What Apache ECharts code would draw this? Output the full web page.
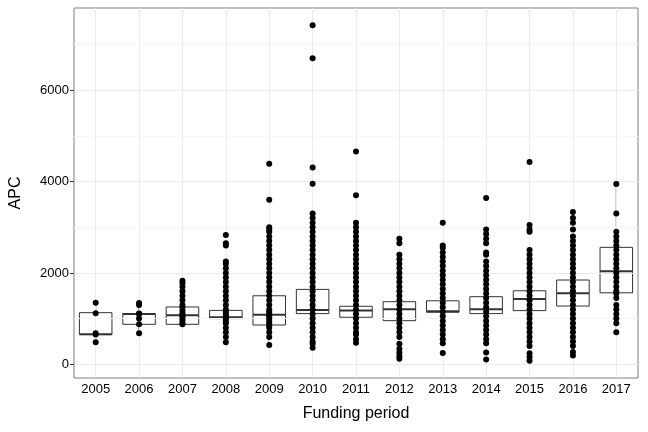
<!DOCTYPE html>
<html><head><meta charset="utf-8">
<script src="https://cdn.jsdelivr.net/npm/echarts@6/dist/echarts.min.js"></script>
<style>html,body{margin:0;padding:0;background:#fff}#c{width:648px;height:432px}</style>
</head><body><div id="c"></div>
<script>
const years = ['2005','2006','2007','2008','2009','2010','2011','2012','2013','2014','2015','2016','2017'];
// [lower whisker, Q1, median, Q3, upper whisker]
const boxStats = [
  [485,650,660,1130,1350],
  [680,875,1100,1110,1350],
  [875,875,1075,1255,1830],
  [730,1000,1030,1180,1450],
  [425,860,1085,1500,2460],
  [360,1110,1190,1640,2435],
  [670,1030,1175,1270,1630],
  [335,955,1205,1370,1990],
  [765,1140,1160,1390,1765],
  [555,1110,1205,1480,2035],
  [525,1175,1430,1610,2260],
  [420,1275,1555,1845,2700],
  [700,1565,2035,2560,3945]
];
const points = [
  [485,650,680,1120,1350],
  [680,875,1000,1100,1110,1300,1340],
  [875,900,960,1000,1050,1080,1120,1180,1250,1300,1400,1500,1600,1700,1780,1830],
  [485,600,700,800,900,950,1000,1030,1060,1100,1150,1200,1300,1400,1500,1600,1700,1800,1900,2000,2100,2200,2250,2600,2650,2830],
  [425,600,700,800,850,900,950,1000,1050,1100,1150,1200,1300,1400,1500,1600,1700,1800,1900,2000,2100,2200,2300,2400,2500,2600,2700,2800,2900,2950,3000,3600,4390],
  [360,450,500,600,700,800,900,1000,1100,1200,1300,1400,1500,1600,1700,1800,1900,2000,2100,2200,2300,2400,2500,2600,2700,2800,2900,3000,3100,3200,3300,3950,4310,6700,7420],
  [470,550,650,700,800,900,1000,1100,1200,1300,1400,1500,1600,1700,1800,1900,2000,2100,2200,2300,2400,2500,2600,2700,2800,2900,3000,3100,3700,4660],
  [120,180,260,340,450,600,700,800,900,1000,1100,1200,1300,1400,1500,1600,1700,1800,1900,2000,2100,2200,2300,2400,2650,2750],
  [245,460,550,650,750,850,950,1050,1150,1250,1350,1450,1550,1650,1750,1850,1950,2050,2150,2250,2350,2450,2550,2600,3100],
  [105,260,460,550,650,750,850,950,1050,1150,1250,1350,1450,1550,1650,1750,1850,1950,2050,2150,2250,2400,2450,2650,2750,2850,2950,3640],
  [75,160,240,400,500,600,700,800,900,1000,1100,1200,1300,1400,1500,1600,1700,1800,1900,2000,2100,2200,2300,2400,2500,2900,2950,3050,4430],
  [190,270,400,500,600,700,800,900,1000,1100,1200,1300,1400,1500,1600,1700,1800,1900,2000,2100,2200,2300,2400,2500,2600,2700,2800,2950,3100,3200,3335],
  [700,900,1000,1100,1200,1300,1450,1550,1600,1700,1800,1900,2000,2100,2200,2300,2400,2500,2600,2700,2800,2900,3300,3945]
];
const yTickLabels = [0,2000,4000,6000];
const yMinorGrid = [1000,3000,5000,7000];

const scatterData = [];
points.forEach((arr,i)=>arr.forEach(v=>scatterData.push([i,v])));
const boxData = boxStats.map((b,i)=>[i].concat(b));
const gridLines = yTickLabels.map(v=>({yAxis:v})).concat(years.map(y=>({xAxis:y})));
const minorLines = yMinorGrid.map(v=>({yAxis:v}));

function renderBox(params, api){
  const i = api.value(0);
  const lo = api.coord([i, api.value(1)]), q1 = api.coord([i, api.value(2)]),
        md = api.coord([i, api.value(3)]), q3 = api.coord([i, api.value(4)]),
        hi = api.coord([i, api.value(5)]);
  const w = api.size([1,0])[0]*0.75, x = lo[0];
  const st = {stroke:'#333', lineWidth:1, fill:null};
  return {type:'group', children:[
    {type:'line', shape:{x1:x,y1:hi[1],x2:x,y2:q3[1]}, style:st},
    {type:'line', shape:{x1:x,y1:q1[1],x2:x,y2:lo[1]}, style:st},
    {type:'rect', shape:{x:x-w/2,y:q3[1],width:w,height:q1[1]-q3[1]}, style:{stroke:'#333',lineWidth:1,fill:'#fff'}},
    {type:'line', shape:{x1:x-w/2,y1:md[1],x2:x+w/2,y2:md[1]}, style:{stroke:'#333',lineWidth:2}}
  ]};
}

const chart = echarts.init(document.getElementById('c'));
const font = 'Liberation Sans, Arial, sans-serif';
chart.setOption({
  animation:false,
  grid:{left:73,right:10,top:8,bottom:54,show:true,borderColor:'#7f7f7f',borderWidth:1,backgroundColor:'#fff'},
  xAxis:{type:'category',data:years,name:'Funding period',nameLocation:'middle',nameGap:28,
    nameTextStyle:{fontFamily:font,fontSize:16,color:'#000'},
    axisLine:{show:false},axisTick:{show:true,alignWithLabel:true,length:4,lineStyle:{color:'#333'}},
    axisLabel:{fontFamily:font,fontSize:13,color:'#000',margin:5},splitLine:{show:false}},
  yAxis:{type:'value',min:-300,max:7800,name:'APC',nameLocation:'middle',nameGap:50,
    nameTextStyle:{fontFamily:font,fontSize:16,color:'#000'},
    axisLine:{show:false},
    axisTick:{show:true,length:4,customValues:yTickLabels,lineStyle:{color:'#333'}},
    axisLabel:{fontFamily:font,fontSize:13,color:'#000',customValues:yTickLabels,margin:5,formatter:v=>String(v)},
    splitLine:{show:false}},
  series:[
    {type:'custom',data:boxData,renderItem:renderBox,z:2,
     encode:{x:0,y:[1,2,3,4,5]},
     markLine:{silent:true,symbol:'none',label:{show:false},lineStyle:{color:'#ebebeb',width:1,type:'solid'},data:gridLines.concat(minorLines.map(d=>Object.assign({lineStyle:{color:'#f5f5f5'}},d)))}},
    {type:'scatter',data:scatterData,symbol:'circle',symbolSize:6,z:5,itemStyle:{color:'#000',opacity:1}}
  ]
});
</script></body></html>
